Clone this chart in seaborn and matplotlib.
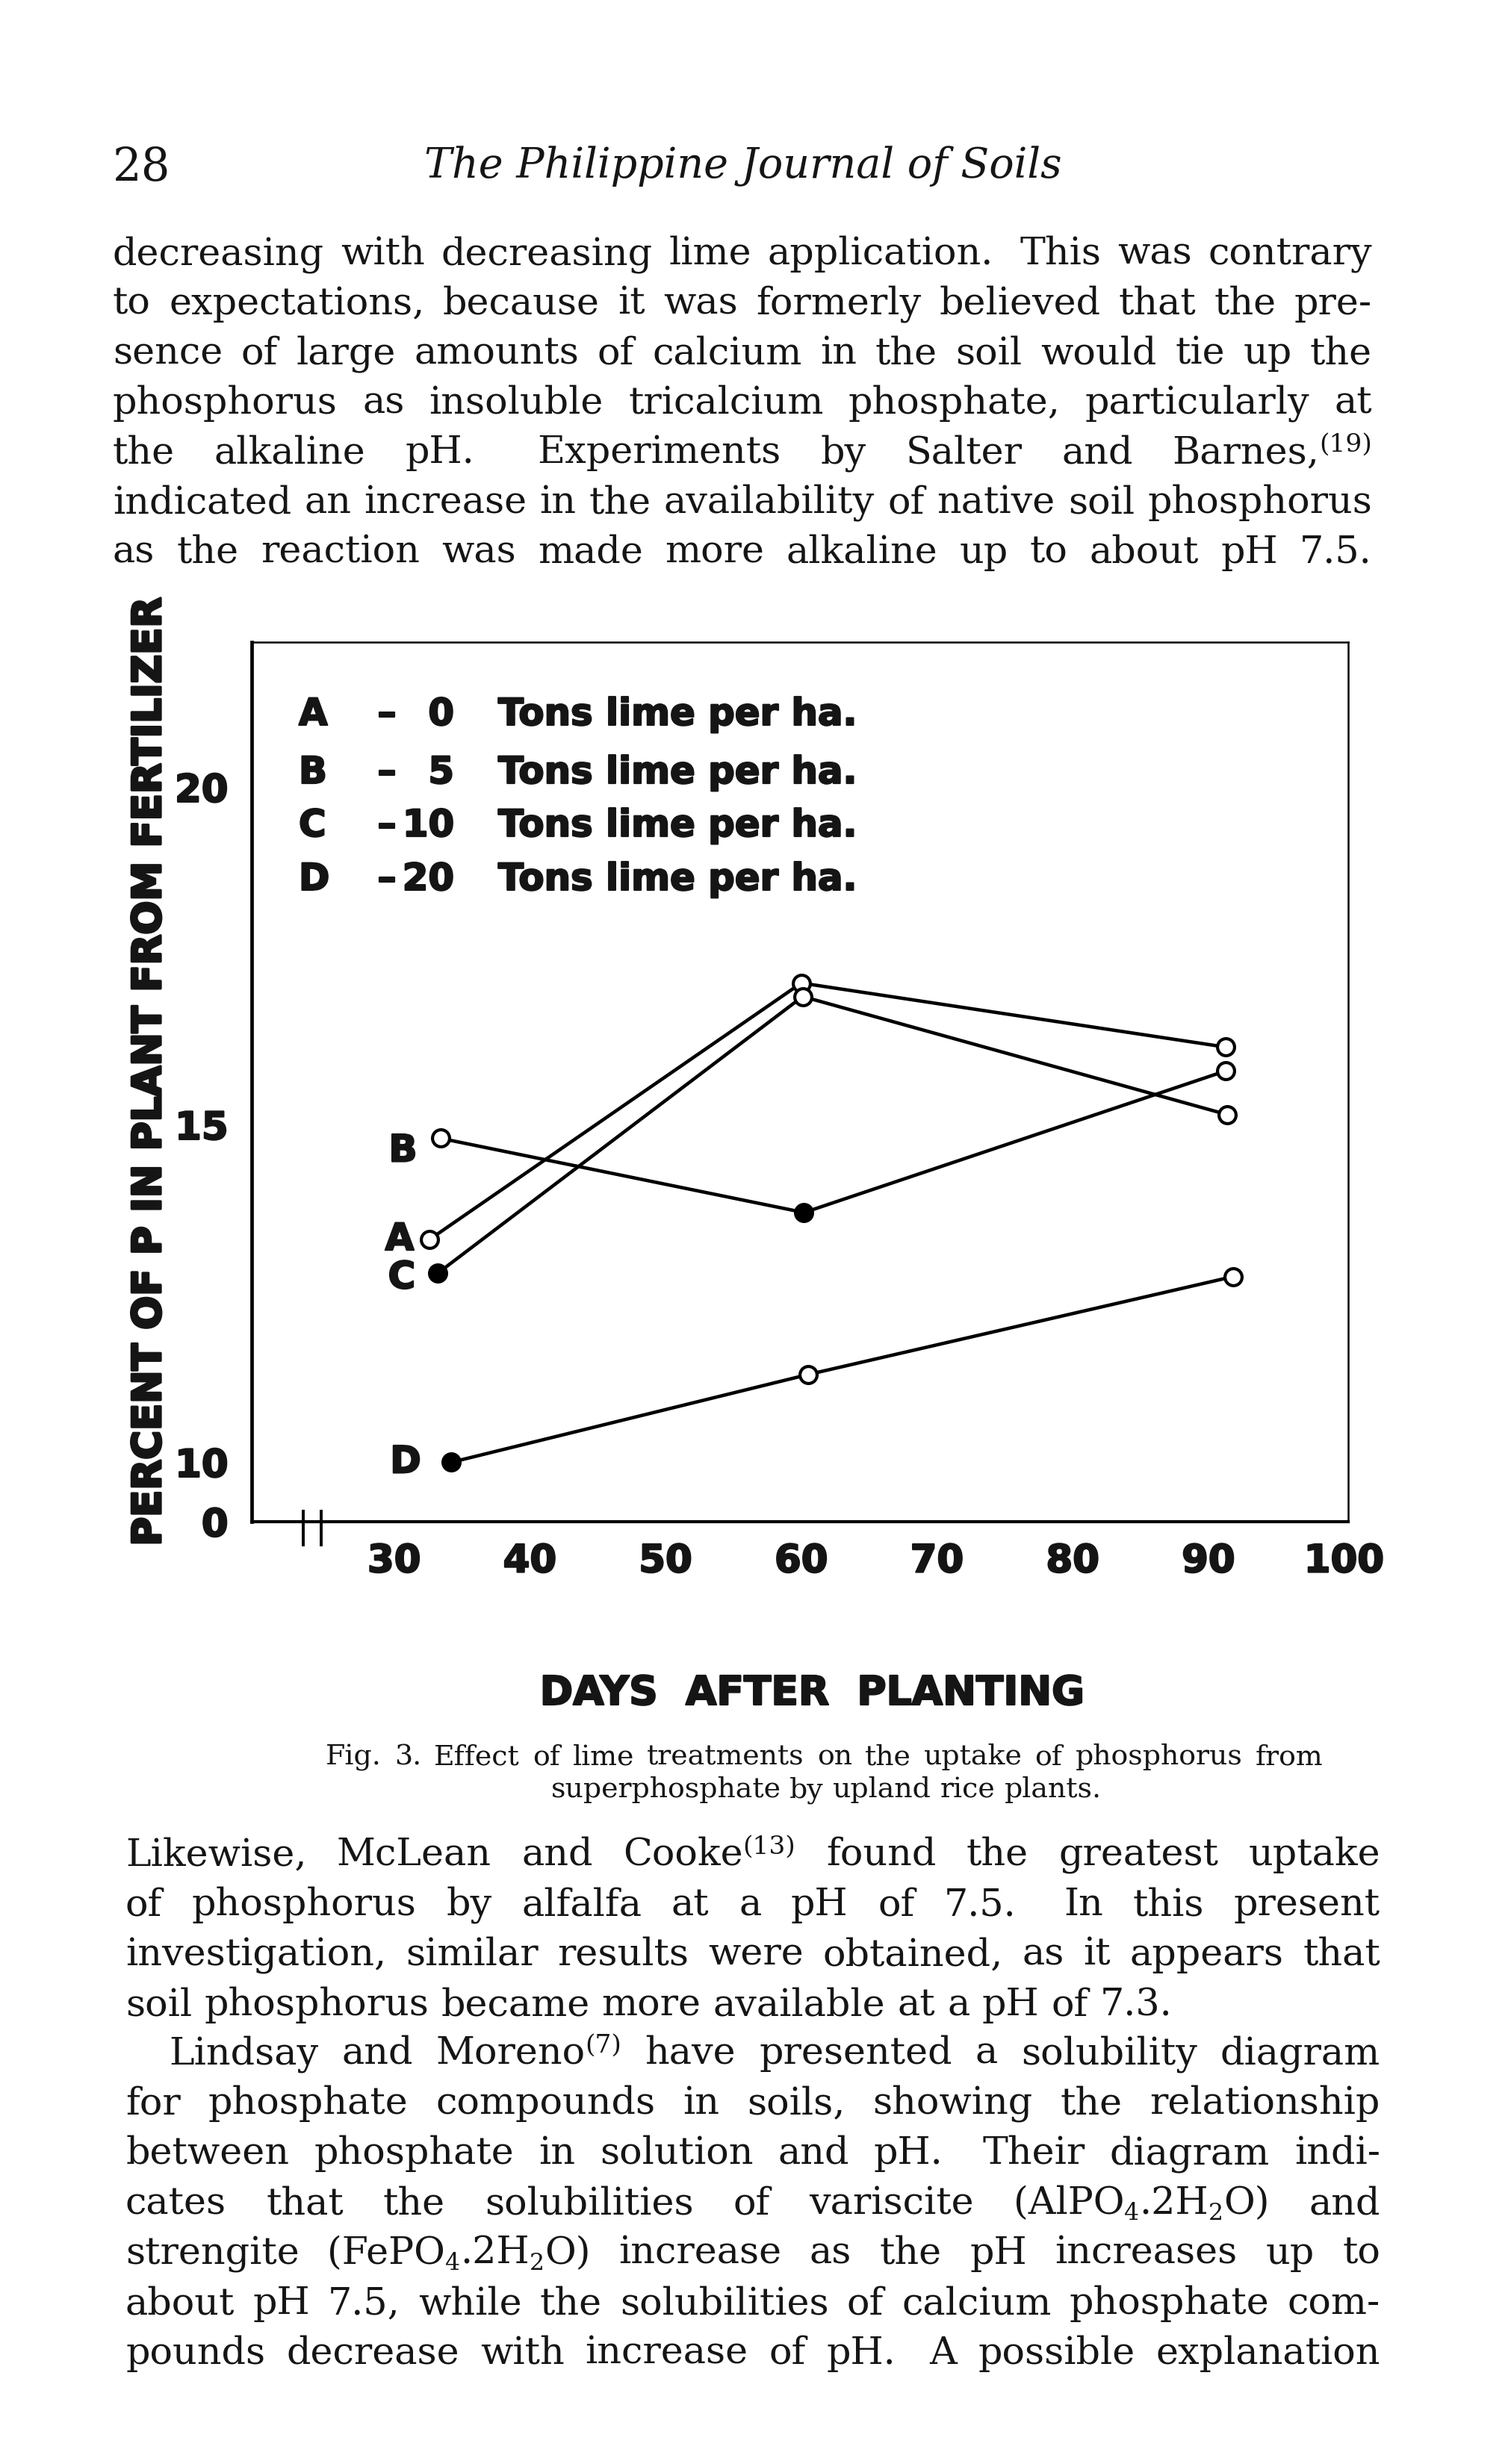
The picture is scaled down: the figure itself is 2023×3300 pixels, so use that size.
import re
import matplotlib
matplotlib.use('Agg')
import matplotlib.pyplot as plt
import matplotlib.transforms as mtransforms
import matplotlib.patheffects as pe
from matplotlib.ticker import MultipleLocator
import pandas as pd
import seaborn as sns

# ---------------- chart data ----------------
series_names = ['A', 'B', 'C', 'D']
legend_rates = ['0', '5', '10', '20']
legend_unit = 'Tons lime per ha.'

days_A = [32.6, 60.0, 91.3]
pct_A = [13.3, 17.1, 16.15]
filled_A = [False, False, False]

days_B = [33.4, 60.2, 91.3]
pct_B = [14.8, 13.7, 15.8]
filled_B = [False, True, False]

days_C = [33.2, 60.1, 91.4]
pct_C = [12.8, 16.9, 15.15]
filled_C = [True, False, False]

days_D = [34.2, 60.5, 91.8]
pct_D = [10.0, 11.3, 12.75]
filled_D = [True, False, False]

x_ticks = [30, 40, 50, 60, 70, 80, 90, 100]
y_ticks = [10, 15, 20]
y_zero_label = '0'
x_label = 'DAYS  AFTER  PLANTING'
y_label = 'PERCENT OF P IN PLANT FROM FERTILIZER'

# ---------------- page text ----------------
header_page = '28'
header_title = 'The Philippine Journal of Soils'
para1 = [
    "decreasing with decreasing lime application.  This was contrary",
    "to expectations, because it was formerly believed that the pre-",
    "sence of large amounts of calcium in the soil would tie up the",
    "phosphorus as insoluble tricalcium phosphate, particularly at",
    "the alkaline pH.  Experiments by Salter and Barnes,^{(19)}",
    "indicated an increase in the availability of native soil phosphorus",
    "as the reaction was made more alkaline up to about pH 7.5.",
]
caption1 = "Fig. 3. Effect of lime treatments on the uptake of phosphorus from"
caption2 = "superphosphate by upland rice plants."
para2 = [
    "Likewise, McLean and Cooke^{(13)} found the greatest uptake",
    "of phosphorus by alfalfa at a pH of 7.5.  In this present",
    "investigation, similar results were obtained, as it appears that",
    "soil phosphorus became more available at a pH of 7.3.",
]
para3 = [
    "Lindsay and Moreno^{(7)} have presented a solubility diagram",
    "for phosphate compounds in soils, showing the relationship",
    "between phosphate in solution and pH.  Their diagram indi-",
    "cates that the solubilities of variscite (AlPO_{4}.2H_{2}O) and",
    "strengite (FePO_{4}.2H_{2}O) increase as the pH increases up to",
    "about pH 7.5, while the solubilities of calcium phosphate com-",
    "pounds decrease with increase of pH.  A possible explanation",
]

# ---------------- figure setup ----------------
sns.set_theme(style='white')
plt.rcParams['font.family'] = ['DejaVu Sans']
W, H, DPI = 2024, 3300, 100
PT = DPI / 72.0
fig = plt.figure(figsize=(W / DPI, H / DPI), dpi=DPI, facecolor='white')
R = fig.canvas.get_renderer()
INK = '#151515'
SERIF = 'DejaVu Serif'
SANS = 'DejaVu Sans'
HEAVY = [pe.withStroke(linewidth=1.6, foreground=INK)]


def fx(x):
    return x / W


def fy(y):
    return 1 - y / H


_cache = {}


def seg_w(s, size, family, style='normal', weight='normal'):
    key = (s, round(size, 3), family, style, weight)
    if key not in _cache:
        t = fig.text(0, 0, s, fontsize=size, family=family, style=style, weight=weight)
        _cache[key] = t.get_window_extent(R).width
        t.remove()
    return _cache[key]


def parse_word(w):
    segs = []
    for m in re.finditer(r'\^\{([^}]*)\}|_\{([^}]*)\}|([^_^{}]+)', w):
        if m.group(1) is not None:
            segs.append((m.group(1), 0.68, 0.30))
        elif m.group(2) is not None:
            segs.append((m.group(2), 0.62, -0.16))
        else:
            segs.append((m.group(3), 1.0, 0.0))
    return segs


def split_line(line):
    parts = re.split(r'(\s+)', line.strip())
    words = parts[0::2]
    gaps = [1 + 0.6 * (len(g) - 1) for g in parts[1::2]]
    return words, gaps


def word_w(word, size, family, **kw):
    return sum(seg_w(s, size * sc, family, **kw) for s, sc, dy in parse_word(word))


def space_w(size, family, **kw):
    return seg_w('n n', size, family, **kw) - 2 * seg_w('n', size, family, **kw)


def natural_w(line, size, family, **kw):
    words, gaps = split_line(line)
    return sum(word_w(w, size, family, **kw) for w in words) + space_w(size, family, **kw) * sum(gaps)


def draw_line(line, x0, x1, yb, size, family=SERIF, justify=True, color=INK, **kw):
    words, gaps = split_line(line)
    ww = [word_w(w, size, family, **kw) for w in words]
    if justify and len(words) > 1:
        extra = (x1 - x0) - sum(ww)
        g = [extra * gi / sum(gaps) for gi in gaps]
    else:
        sp = space_w(size, family, **kw)
        g = [sp * gi for gi in gaps]
    x = x0
    for i, w in enumerate(words):
        xx = x
        for s, sc, dy in parse_word(w):
            fig.text(fx(xx), fy(yb - dy * size * PT), s, fontsize=size * sc, family=family,
                     ha='left', va='baseline', color=color, **kw)
            xx += seg_w(s, size * sc, family, **kw)
        x += ww[i] + (g[i] if i < len(g) else 0)


def fit_size(text, target, family, base=30.0, **kw):
    return base * target / seg_w(text, base, family, **kw)


# ---------------- body text ----------------
justified = para1 + para2[:-1] + para3
widths_target = 1686.0
body_size = min(30.0 * widths_target / natural_w(l, 30.0, SERIF) for l in justified) * 0.995

# header
fig.text(fx(151), fy(241), header_page, fontsize=body_size * 1.2, family=SERIF,
         ha='left', va='baseline', color=INK)
title_size = fit_size(header_title, 854, SERIF, style='italic')
fig.text(fx(568), fy(238), header_title, fontsize=title_size, family=SERIF, style='italic',
         ha='left', va='baseline', color=INK)

for i, line in enumerate(para1):
    draw_line(line, 151, 1837, 354 + 66.6 * i, body_size)

for i, line in enumerate(para2):
    draw_line(line, 168, 1848, 2498 + 67 * i, body_size, justify=(i < len(para2) - 1))

for i, line in enumerate(para3):
    x0 = 226 if i == 0 else 168
    draw_line(line, x0, 1848, 2764 + 67 * i, body_size)

# caption
cap_size = 30.0 * 1335 * 0.96 / natural_w(caption1, 30.0, SERIF)
draw_line(caption1, 436, 1771, 2363, cap_size)
c2w = natural_w(caption2, cap_size, SERIF)
draw_line(caption2, 1106 - c2w / 2, 1106 + c2w / 2, 2407, cap_size, justify=False)

# ---------------- chart ----------------
frames = []
for name, d, p, f in [('A', days_A, pct_A, filled_A), ('B', days_B, pct_B, filled_B),
                      ('C', days_C, pct_C, filled_C), ('D', days_D, pct_D, filled_D)]:
    frames.append(pd.DataFrame({'series': name, 'day': d, 'pct': p, 'filled': f}))
df = pd.concat(frames, ignore_index=True)

ax = fig.add_axes([fx(337), fy(2038), (1805 - 337) / W, (2038 - 860) / H])
ax.set_facecolor('white')
sns.lineplot(data=df, x='day', y='pct', units='series', estimator=None, sort=False,
             color='black', lw=3.3, ax=ax, zorder=2)
sns.scatterplot(data=df[~df['filled']], x='day', y='pct', s=270, color='white',
                edgecolor='black', linewidth=3.0, ax=ax, zorder=3)
sns.scatterplot(data=df[df['filled']], x='day', y='pct', s=270, color='black',
                edgecolor='black', linewidth=3.0, ax=ax, zorder=3)

ymin = 9.12
ax.set_xlim(19.5, 100.3)
ax.set_ylim(ymin, 22.15)
ax.set_xticks(x_ticks)
ax.set_xticklabels([str(v) for v in x_ticks])
ax.set_yticks([ymin] + y_ticks)
ax.set_yticklabels([y_zero_label] + [str(v) for v in y_ticks])
ax.yaxis.set_minor_locator(MultipleLocator(1))
ax.set_xlabel('')
ax.set_ylabel('')
ax.grid(False)

ax.tick_params(axis='both', which='both', direction='inout', color='black', width=2.4)
ax.tick_params(axis='x', which='major', length=15, pad=13, labelsize=37)
ax.tick_params(axis='y', which='major', length=15, pad=15, labelsize=37)
ax.tick_params(axis='y', which='minor', length=13)
for lab in ax.get_xticklabels() + ax.get_yticklabels():
    lab.set_fontweight('bold')
    lab.set_color(INK)
    lab.set_path_effects(HEAVY)

for side, lw in [('left', 3.4), ('bottom', 3.0), ('top', 1.8), ('right', 1.8)]:
    ax.spines[side].set_visible(True)
    ax.spines[side].set_color('black')
    ax.spines[side].set_linewidth(lw)

# axis break marks on the x axis
trans = mtransforms.blended_transform_factory(ax.transData, ax.transAxes)
for xb in [23.3, 24.6]:
    ax.plot([xb, xb], [0.014, -0.028], transform=trans, color='black', lw=2.8,
            clip_on=False, solid_capstyle='butt')

# series letters beside first points
letter_offsets = {'A': (-40, 0), 'B': (-50, -17), 'C': (-48, -6), 'D': (-61, 0)}
letter_size = 36
for name, d, p in [('A', days_A, pct_A), ('B', days_B, pct_B), ('C', days_C, pct_C), ('D', days_D, pct_D)]:
    ax.annotate(name, xy=(d[0], p[0]), xytext=letter_offsets[name], textcoords='offset pixels',
                ha='center', va='center', fontsize=letter_size, fontweight='bold',
                family=SANS, color=INK, path_effects=HEAVY)

# key block
key_size = fit_size(legend_unit, 480, SANS, weight='bold')
for i, (name, rate) in enumerate(zip(series_names, legend_rates)):
    yy = [957, 1035, 1106, 1178][i]
    for txt, xx, ha in [(name, 400, 'left'), ('\u2013', 518, 'center'),
                        (rate, 608, 'right'), (legend_unit, 667, 'left')]:
        fig.text(fx(xx), fy(yy), txt, fontsize=key_size, fontweight='bold', family=SANS,
                 ha=ha, va='center', color=INK, path_effects=HEAVY)

# axis titles
yl_size = fit_size(y_label, 1273, SANS, weight='bold')
fig.text(fx(200), fy(1435), y_label, rotation=90, fontsize=yl_size, fontweight='bold',
         family=SANS, ha='center', va='center', color=INK,
         path_effects=[pe.withStroke(linewidth=2.4, foreground=INK)])
xl_size = fit_size(x_label, 730, SANS, weight='bold')
fig.text(fx(1087), fy(2268), x_label, fontsize=xl_size, fontweight='bold',
         family=SANS, ha='center', va='center', color=INK, path_effects=HEAVY)

fig.savefig('out.png', dpi=DPI, facecolor='white')
